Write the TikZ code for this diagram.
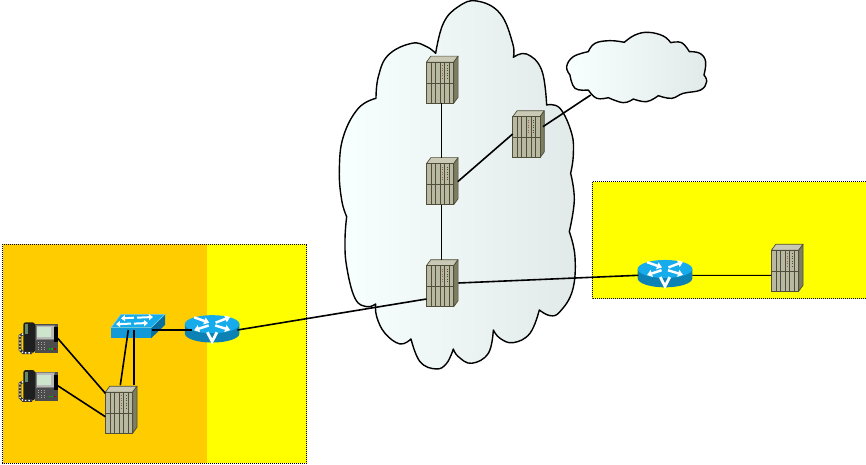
\documentclass[tikz,border=0pt]{standalone}
\usetikzlibrary{arrows.meta}
\definecolor{zoneY}{HTML}{FFFF00}
\definecolor{zoneO}{HTML}{FFCC00}
\definecolor{rackF}{HTML}{B9B9A2}
\definecolor{rackT}{HTML}{C9C9B5}
\definecolor{rackS}{HTML}{7E7E62}
\definecolor{rackL}{HTML}{4E4E3A}
\definecolor{blueT}{HTML}{16ACEC}
\definecolor{blueF}{HTML}{0C82B4}
\definecolor{blueS}{HTML}{0A6E9C}
\definecolor{blueM}{HTML}{1299D8}
\definecolor{cloudL}{HTML}{F8FFFF}
\definecolor{cloudR}{HTML}{E2E9E9}
\tikzset{
 zone/.style={draw=black,dash pattern=on 1pt off 1pt,line width=1pt},
 cloudshape/.style={draw=black,line width=1.4pt,line join=round,left color=cloudL,right color=cloudR},
 anchorbox/.style={inner sep=0pt,outer sep=0pt,draw=none,rectangle},
 rackbox/.style={anchorbox,minimum width=27.3pt,minimum height=41pt},
 routerbox/.style={anchorbox,minimum width=54.6pt,minimum height=27.4pt},
 switchbox/.style={anchorbox,minimum width=40pt,minimum height=10.6pt},
 phonebox/.style={anchorbox,minimum width=39.4pt,minimum height=31pt},
 thinlink/.style={draw=black,line width=1.1pt},
 midlink/.style={draw=black,line width=1.6pt},
 thicklink/.style={draw=black,line width=2.2pt},
 rackpic/.pic={
  \fill[rackT,draw=rackL,line width=.7pt,line join=round] (-13.65,-20.5)--(-9.3,-26.5)--(18,-26.5)--(13.65,-20.5)--cycle;
  \fill[rackS,draw=rackL,line width=.7pt,line join=round] (13.65,-20.5)--(18,-26.5)--(18,14.5)--(13.65,20.5)--cycle;
  \fill[rackF,draw=rackL,line width=.9pt] (-13.65,-20.5) rectangle (13.65,20.5);
  \foreach \i in {-9.1,-4.55,0,4.55,9.1} \draw[rackL,line width=.7pt] (\i,-20.5)--(\i,20.5);
  \draw[rackL,line width=.7pt] (-13.65,0.5)--(13.65,0.5);
  \foreach \j in {-17.5,-15,...,-3} {
    \fill[red!30!rackL!80!white] (2.0,\j) rectangle +(1,1);
    \fill[rackL] (6.6,\j) rectangle +(1,1);
  }
 },
 routerpic/.pic={
  \fill[blueF] (-27.3,-4.7)--(-27.3,4.7) arc[start angle=180,end angle=360,x radius=27.3,y radius=-9]--(27.3,-4.7)--cycle;
  \fill[blueT] (0,-4.7) ellipse[x radius=27.3,y radius=9];
  \begin{scope}[draw=white,line width=2.4pt,-{Triangle[length=5pt,width=7pt]},white]
   \draw (-18,-11.5)--(-3,-6.2);
   \draw (3,-3.4)--(18,1.2);
   \draw (3.5,-6.2)--(18,-11.8);
   \draw (-3.5,-3.4)--(-18,1.4);
  \end{scope}
  \draw[white,line width=2.8pt,line join=miter] (-4.8,3.4)--(0,12.6)--(4.8,3.4);
 },
 switchpic/.pic={
  \fill[blueS] (20,-5.3)--(34,-18.7)--(34,-8)--(20,5.3)--cycle;
  \fill[blueT,draw=blueT!60!white,line width=.6pt] (-20,-5.3)--(-10,-18.7)--(34,-18.7)--(20,-5.3)--cycle;
  \fill[blueM] (-20,-5.3) rectangle (20,5.3);
  \begin{scope}[white,draw=white,line width=2pt,-{Triangle[length=4pt,width=6pt]}]
   \draw (3,-15.3)--(-10,-14.6);
   \draw (6,-15.3)--(22,-16);
   \draw (0,-9.4)--(-15,-8.8);
   \draw (3,-9.4)--(17,-10);
  \end{scope}
 },
 phonepic/.pic={
  \fill[black!70] (-3,-13.5) rectangle (19.7,15);
  \fill[black!88,rounded corners=2.5pt] (-14.7,-15.5) rectangle (-3,15);
  \fill[black!30!green!20!gray] (-12.6,-13.5) rectangle (-10,-4);
  \fill[gray!55,draw=gray,line width=.6pt] (-2,-13) rectangle (16,1.5);
  \fill[gray!70!green!30!white] (-.7,-11) rectangle (13,-.5);
  \fill[black] (16,-11) rectangle (19.7,4);
  \foreach \a in {0,3,6} \foreach \b in {4,6.5,9,11.5} \fill[gray!70] (\a-.5,\b) rectangle +(1.6,1);
  \fill[green!70!black] (10.5,10.5) rectangle +(1.8,1.4);
  \fill[green!70!black] (13.3,10.5) rectangle +(1.8,1.4);
  \fill[red!70!black] (16,10.5) rectangle +(1.8,1.4);
  \draw[black!80,line width=2.6pt] (-15,-4)--(-18,-2)--(-18,12)--(-15,15)--(-6,15);
  \draw[white,line width=1.4pt,dash pattern=on 1.4pt off 2pt] (-15,-4)--(-18,-2)--(-18,12)--(-15,15)--(-6,15);
 }
}
\begin{document}
\begin{tikzpicture}[x=1pt,y=-1pt]
\useasboundingbox (0,0) rectangle (866,465);
% zones
\fill[zoneY] (2.7,244) rectangle (306.7,463);
\fill[zoneO] (2.7,244) rectangle (206.7,463);
\draw[zone] (2.7,244) rectangle (306.7,463);
\fill[zoneY] (592.3,181.7) rectangle (866,298.7);
\draw[zone] (592.3,181.7) rectangle (866,298.7);
% large cloud
\begin{scope}[shift={(330,0)},x=.3333pt,y=-.3333pt]
\path[cloudshape]
 plot[smooth,tension=.7] coordinates {(317,160)(340,70)(385,20)(440,3)(510,40)(548,130)(550,172)}
 -- plot[smooth,tension=.7] coordinates {(550,172)(590,162)(635,210)(650,315)}
 -- plot[smooth,tension=.7] coordinates {(650,315)(690,325)(725,400)(730,465)(722,520)}
 -- plot[smooth,tension=.7] coordinates {(722,520)(733,600)(718,695)}
 -- plot[smooth,tension=.7] coordinates {(718,695)(735,770)(728,870)(690,935)(660,947)(628,930)}
 -- plot[smooth,tension=.7] coordinates {(628,930)(600,1000)(550,1028)(510,1015)(490,990)}
 -- plot[smooth,tension=.7] coordinates {(490,990)(475,1060)(425,1090)(385,1070)(370,1047)}
 -- plot[smooth,tension=.7] coordinates {(370,1047)(350,1090)(318,1107)(270,1085)(243,1017)}
 -- plot[smooth,tension=.7] coordinates {(243,1017)(210,1032)(165,1000)(140,950)(137,912)}
 -- plot[smooth,tension=.7] coordinates {(137,912)(110,920)(75,895)(50,800)(45,720)(50,650)}
 -- plot[smooth,tension=.7] coordinates {(50,650)(35,600)(28,510)(40,410)(85,325)(138,295)}
 -- plot[smooth,tension=.7] coordinates {(138,295)(145,230)(175,165)(245,130)(290,140)(317,160)}
 -- cycle;
% small cloud
\path[cloudshape]
 plot[smooth,tension=.7] coordinates {(883,127)(915,105)(955,97)(1000,108)(1022,128)}
 -- plot[smooth,tension=.7] coordinates {(1022,128)(1055,128)(1078,155)}
 -- plot[smooth,tension=.7] coordinates {(1078,155)(1110,160)(1127,185)(1122,225)}
 -- plot[smooth,tension=.7] coordinates {(1122,225)(1130,245)(1112,270)(1060,280)(1025,295)(985,287)}
 -- plot[smooth,tension=.7] coordinates {(985,287)(950,305)(910,297)}
 -- plot[smooth,tension=.7] coordinates {(910,297)(880,308)(835,293)}
 -- plot[smooth,tension=.7] coordinates {(835,293)(800,295)(775,270)}
 -- plot[smooth,tension=.7] coordinates {(775,270)(735,265)(720,225)}
 -- plot[smooth,tension=.7] coordinates {(720,225)(710,200)(730,170)(775,155)}
 -- plot[smooth,tension=.7] coordinates {(775,155)(795,130)(840,122)(883,127)}
 -- cycle;
\end{scope}
\coordinate (cloudgate) at (590.7,95);
% device anchors
\node[rackbox] (r1) at (440.1,82.65) {};
\node[rackbox] (r2) at (440.1,184.15) {};
\node[rackbox] (r3) at (526.3,137.3) {};
\node[rackbox] (r4) at (440.1,286.15) {};
\node[rackbox] (r5) at (785,270.8) {};
\node[rackbox] (r6) at (119,412.7) {};
\node[routerbox] (gw1) at (665,273.65) {};
\node[routerbox] (gw2) at (212.15,328.85) {};
\node[switchbox] (sw) at (131,333) {};
\node[phonebox] (p1) at (38,337.8) {};
\node[phonebox] (p2) at (38,385.5) {};
% device drawings
\foreach \n in {r1,r2,r3,r4,r5,r6} \pic at (\n) {rackpic};
\foreach \n in {gw1,gw2} \pic at (\n) {routerpic};
\pic at (sw) {switchpic};
\foreach \n in {p1,p2} \pic at (\n) {phonepic};
% connectors
\draw[thinlink] ([xshift=1.2]r1.south)--([xshift=1.2,yshift=6]r2.north);
\draw[thinlink] ([xshift=1.2]r2.south)--([xshift=1.2,yshift=6]r4.north);
\draw[midlink] ([xshift=4,yshift=2.5]r2.east)--([yshift=3.3]r3.west);
\draw[midlink] ([xshift=3,yshift=10.6]r3.east)--(cloudgate);
\draw[midlink] ([xshift=4.6,yshift=3.15]r4.east)--([xshift=.6,yshift=-1.65]gw1.west);
\draw[midlink] ([yshift=-12.85]r4.west)--([xshift=-2,yshift=-1.15]gw2.east);
\draw[thinlink] ([yshift=-1.65]gw1.east)--([yshift=-4.5]r5.west);
\draw[midlink] ([xshift=.7,yshift=3]sw.east)--([xshift=6.85,yshift=-1.15]gw2.west);
\draw[midlink] ([yshift=-.5]p1.east)--([yshift=19.4]r6.west);
\draw[midlink] ([yshift=-.2]p2.east)--([yshift=-4]r6.west);
\draw[midlink] ([xshift=-2.7,yshift=8.3]sw.south)--([xshift=1.3,yshift=7]r6.north);
\draw[thicklink] ([xshift=2.7,yshift=8.3]sw.south)--([xshift=14.7,yshift=7]r6.north);
\end{tikzpicture}
\end{document}
